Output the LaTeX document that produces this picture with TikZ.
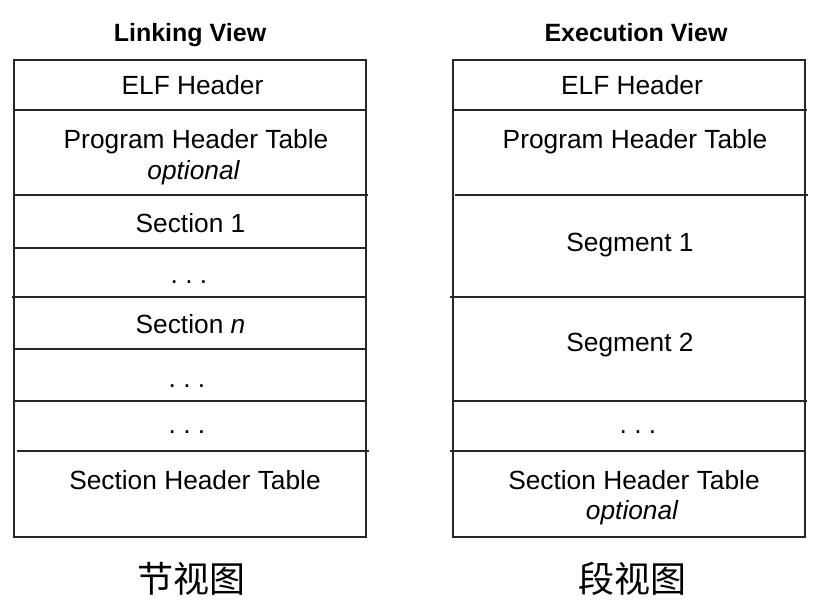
\documentclass[tikz,border=0pt]{standalone}
\usepackage{fontspec}
\setmainfont{Liberation Sans}
\newfontfamily\cjk{Noto Sans CJK SC}
\begin{document}
\begin{tikzpicture}[x=1pt,y=-1pt,
  rule/.style={line width=1.3pt,draw=black!85},
  lbl/.style={anchor=base,inner sep=0pt,font=\fontsize{26.3}{30}\selectfont},
  ttl/.style={anchor=base,inner sep=0pt,font=\fontsize{25}{30}\selectfont\bfseries},
  cjkcaption/.style={anchor=base,inner sep=0pt,font=\cjk\fontsize{36}{40}\selectfont}]
\useasboundingbox (0,0) rectangle (819,607);
% left table
\draw[rule] (14,60) rectangle (366,537);
\draw[rule] (14,110) -- (366,110);
\draw[rule] (14,195) -- (368,195);
\draw[rule] (14,248) -- (366,248);
\draw[rule] (12,297) -- (366,297);
\draw[rule] (14,349) -- (366,349);
\draw[rule] (14,401) -- (366,401);
\draw[rule] (17,451) -- (369,451);
% right table
\draw[rule] (453,60) rectangle (805,537);
\draw[rule] (453,110) -- (807,110);
\draw[rule] (455,195) -- (808,195);
\draw[rule] (450,297) -- (805,297);
\draw[rule] (453,401) -- (807,401);
\draw[rule] (450,451) -- (805,451);
% titles
\node[ttl] (tl) at (190,42) {Linking View};
\node[ttl] (tr) at (636,42) {Execution View};
% left labels
\node[lbl] (l1) at (192.5,94.5) {ELF Header};
\node[lbl] (l2) at (196,148.5) {Program Header Table};
\node[lbl] (l2o) at (193.5,179) {\itshape optional};
\node[lbl] (l3) at (190.5,232.5) {Section 1};
\node[lbl] (l4) at (189,283) {.\ .\ .};
\node[lbl] (l5) at (190.5,333) {Section \itshape n};
\node[lbl] (l6) at (187,387) {.\ .\ .};
\node[lbl] (l7) at (187,433) {.\ .\ .};
\node[lbl] (l8) at (195,489.5) {Section Header Table};
% right labels
\node[lbl] (r1) at (632,94.5) {ELF Header};
\node[lbl] (r2) at (635,148.5) {Program Header Table};
\node[lbl] (r3) at (630,251) {Segment 1};
\node[lbl] (r4) at (630,351) {Segment 2};
\node[lbl] (r5) at (638,433) {.\ .\ .};
\node[lbl] (r6) at (634,489.5) {Section Header Table};
\node[lbl] (r6o) at (632,519) {\itshape optional};
% captions
\node[cjkcaption] (cl) at (191,592) {节视图};
\node[cjkcaption] (cr) at (632,592) {段视图};
\end{tikzpicture}
\end{document}
